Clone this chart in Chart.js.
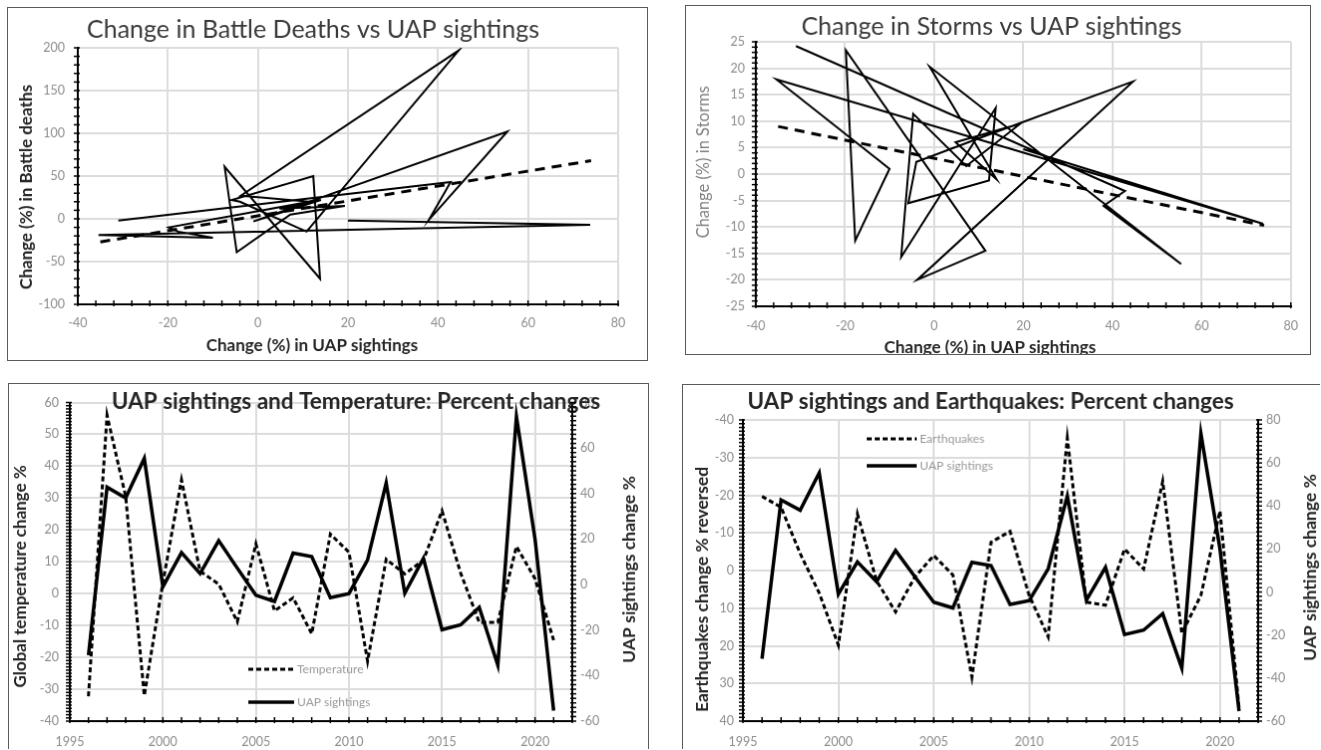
<!DOCTYPE html>
<html>
<head>
<meta charset="utf-8">
<title>UAP sightings charts</title>
<script src="https://cdn.jsdelivr.net/npm/chart.js@4.4.1/dist/chart.umd.min.js"></script>
<style>
  body { margin: 0; background: #fff; width: 1321px; height: 750px; overflow: hidden; position: relative; }
  canvas { position: absolute; border: 1.5px solid #595959; box-sizing: content-box; }
  #c3, #c4 { border-bottom: none; }
  #c4 { border-right: none; }
</style>
</head>
<body>
<canvas id="c1" width="641" height="354" style="left:7px;top:7px"></canvas>
<canvas id="c2" width="626" height="350" style="left:685px;top:5px"></canvas>
<canvas id="c3" width="641" height="366" style="left:8px;top:383px"></canvas>
<canvas id="c4" width="638" height="365" style="left:682px;top:384px"></canvas>
<script>
// years and yearly percent changes
const years = [1996, 1997, 1998, 1999, 2000, 2001, 2002, 2003, 2004, 2005, 2006, 2007, 2008,
               2009, 2010, 2011, 2012, 2013, 2014, 2015, 2016, 2017, 2018, 2019, 2020, 2021];
const uapChange = [-31, 42.8, 38, 55.4, -1, 14, 4.8, 19.3, 7.2, -4.7, -7.4, 13.8, 12.3,
                   -5.8, -4, 10.8, 44.6, -3.8, 11.5, -19.8, -17.7, -10, -35.4, 73.8, 20, -55.4];
const tempChange = [-32.2, 56, 30.5, -32, 3.5, 35.7, 7, 3, -8.8, 15.6, -5.4, -1.3, -12.6,
                    18.7, 13, -21.2, 10.8, 6.2, 10.5, 26, 6.5, -9, -9, 14.8, 4.7, -14.6];
const quakeChange = [-19.7, -16.8, -4.5, 6, 19.8, -15, 2.7, 11, 1.8, -4, 1.2, 28.3, -7.5,
                     -10.4, 6.6, 17.6, -35.2, 8.4, 9.2, -5.7, -0.4, -23.7, 16.7, 6.6, -15.8, 36.5];

// scatter panels use 1996-2020
const battleChange = [-2, 43, -1, 102, -3, 22, 12, 15, 5, -39, 61, -70, 50,
                      22, 20, -15, 197, 27, 20, -10, -15, -22, -19, -7, -2];
const stormChange = [24.2, -3.2, -6, -17, 20.3, -1, 6, 9.5, 1.5, 11.4, -15.7, 12.5, -1.2,
                     -5.5, 2.3, 7, 17.5, -20, -14.5, 23.4, -12.6, 1, 17.9, -9.4, 4.7];

// dashed trend lines
const trendX = [-35, 74];
const battleTrend = [-27, 68];
const stormTrend = [9, -9.7];

// tick mark spacing per chart, kept outside the plugin options
const tickSteps = {
  c1: { x: 4, y: 10 },
  c2: { x: 4, y: 1 },
  c3: { x: 1, y: 1, y1: 2 },
  c4: { x: 1, y: 1, y1: 2 }
};

Chart.defaults.font.family = 'Lato, "Open Sans", sans-serif';
Chart.defaults.color = '#8c8c8c';
Chart.defaults.animation = false;

// free text (titles, axis names) at fixed spots
const textPlugin = {
  id: 'texts',
  afterDraw(chart, args, opts) {
    const ctx = chart.ctx;
    (opts.items || []).forEach(t => {
      ctx.save();
      ctx.translate(t.x, t.y);
      if (t.rot) ctx.rotate(t.rot * Math.PI / 180);
      ctx.font = t.font;
      ctx.fillStyle = t.color || '#262626';
      ctx.textAlign = 'center';
      ctx.textBaseline = 'middle';
      ctx.fillText(t.text, 0, 0);
      ctx.restore();
    });
  }
};

// small black tick marks along the axis lines
const tickPlugin = {
  id: 'axisTicks',
  afterDraw(chart) {
    const ctx = chart.ctx;
    const steps = tickSteps[chart.canvas.id] || {};
    ctx.save();
    ctx.setLineDash([]);
    ctx.strokeStyle = '#000';
    ctx.lineWidth = 1.5;
    ['x', 'y', 'y1'].forEach(id => {
      const s = chart.scales[id];
      const step = steps[id];
      if (!s || !step) return;
      for (let v = s.min; v <= s.max + 1e-9; v += step) {
        const p = s.getPixelForValue(v);
        ctx.beginPath();
        if (s.isHorizontal()) {
          ctx.moveTo(p, s.top - 4);
          ctx.lineTo(p, s.top + 2);
        } else if (s.position === 'right') {
          ctx.moveTo(s.left + 4, p);
          ctx.lineTo(s.left - 2, p);
        } else {
          ctx.moveTo(s.right - 4, p);
          ctx.lineTo(s.right + 2, p);
        }
        ctx.stroke();
      }
    });
    ctx.restore();
  }
};

// legend drawn inside the plot
const boxLegend = {
  id: 'boxLegend',
  afterDraw(chart, args, opts) {
    if (!opts.x) return;
    const ctx = chart.ctx;
    chart.data.datasets.forEach((ds, i) => {
      const y = opts.y + i * opts.gap;
      ctx.save();
      ctx.strokeStyle = ds.borderColor;
      ctx.lineWidth = ds.borderWidth;
      ctx.setLineDash(ds.borderDash || []);
      ctx.beginPath();
      ctx.moveTo(opts.x, y);
      ctx.lineTo(opts.x + opts.len, y);
      ctx.stroke();
      ctx.setLineDash([]);
      ctx.font = '12px Lato';
      ctx.fillStyle = '#999';
      ctx.textBaseline = 'middle';
      ctx.fillText(ds.label, opts.x + opts.len + 3, y);
      ctx.restore();
    });
  }
};

Chart.register(textPlugin, tickPlugin, boxLegend);

const gridStyle = { color: '#dcdcdc', lineWidth: 2, drawTicks: false };
const borderStyle = { color: '#000', width: 2 };
const tickFont = { size: 12.5 };

function fixSize(w, h) {
  return function (s) {
    if (w !== null) s.width = w;
    if (h !== null) s.height = h;
  };
}

function pairs(xs, ys) {
  return ys.map((y, i) => ({ x: xs[i], y: y }));
}

function scatterChart(id, cfg) {
  return new Chart(document.getElementById(id), {
    type: 'scatter',
    data: {
      datasets: [
        { label: 'path', data: pairs(uapChange, cfg.values), showLine: true, borderColor: '#000',
          borderWidth: 2, pointRadius: 0, tension: 0 },
        { label: 'trend', data: pairs(trendX, cfg.trend), showLine: true, borderColor: '#000',
          borderWidth: 3, borderDash: [10, 7], pointRadius: 0 }
      ]
    },
    options: {
      responsive: false,
      layout: { padding: { left: 0, right: cfg.right, top: 0, bottom: 0 } },
      scales: {
        x: { min: -40, max: 80, ticks: { stepSize: 20, padding: cfg.xPad, font: tickFont },
             grid: gridStyle, border: borderStyle, afterFit: fixSize(null, cfg.xHeight) },
        y: { min: cfg.yMin, max: cfg.yMax, ticks: { stepSize: cfg.yStep, padding: cfg.yPad, font: tickFont },
             grid: gridStyle, border: borderStyle, afterFit: fixSize(cfg.yWidth, null) }
      },
      plugins: {
        legend: { display: false },
        tooltip: { enabled: false },
        title: { display: true, text: cfg.title, color: '#3a3a3a',
                 font: { size: 25, weight: 'normal' }, padding: cfg.titlePad },
        texts: { items: cfg.texts }
      }
    }
  });
}

function lineChart(id, cfg) {
  return new Chart(document.getElementById(id), {
    type: 'line',
    data: {
      datasets: [
        { label: cfg.leftName, data: pairs(years, cfg.values), yAxisID: 'y', borderColor: '#000',
          borderWidth: 3, borderDash: [5, 3], pointRadius: 0, tension: 0 },
        { label: 'UAP sightings', data: pairs(years, uapChange), yAxisID: 'y1', borderColor: '#000',
          borderWidth: 3.5, pointRadius: 0, tension: 0 }
      ]
    },
    options: {
      responsive: false,
      layout: { padding: { left: 0, right: 0, top: cfg.top, bottom: 0 } },
      scales: {
        x: { type: 'linear', min: 1995, max: 2022,
             ticks: { stepSize: 5, includeBounds: false, padding: 13, font: tickFont, callback: v => v },
             grid: gridStyle, border: borderStyle, afterFit: fixSize(null, cfg.xHeight) },
        y: { position: 'left', min: cfg.yMin, max: cfg.yMax, reverse: cfg.reverse,
             ticks: { stepSize: 10, padding: cfg.yPad, font: tickFont },
             grid: gridStyle, border: borderStyle, afterFit: fixSize(cfg.yWidth, null) },
        y1: { position: 'right', min: -60, max: 80,
              ticks: { stepSize: 20, padding: cfg.y1Pad, font: tickFont },
              grid: { drawOnChartArea: false, drawTicks: false }, border: borderStyle,
              afterFit: fixSize(cfg.y1Width, null) }
      },
      plugins: {
        legend: { display: false },
        tooltip: { enabled: false },
        boxLegend: cfg.legend,
        texts: { items: cfg.texts }
      }
    }
  });
}

const boldAxis = 'bold 17px Lato';

scatterChart('c1', {
  title: 'Change in Battle Deaths vs UAP sightings',
  values: battleChange, trend: battleTrend,
  yMin: -100, yMax: 200, yStep: 50,
  right: 29, xHeight: 56, yWidth: 70, xPad: 11, yPad: 13,
  titlePad: { top: 7, bottom: 3 },
  texts: [
    { text: 'Change (%) in UAP sightings', x: 305, y: 340, font: boldAxis },
    { text: 'Change (%) in Battle deaths', x: 19, y: 180, rot: -90, font: boldAxis }
  ]
});

scatterChart('c2', {
  title: 'Change in Storms vs UAP sightings',
  values: stormChange, trend: stormTrend,
  yMin: -25, yMax: 25, yStep: 5,
  right: 13, xHeight: 48, yWidth: 70, xPad: 12, yPad: 11,
  titlePad: { top: 6, bottom: 0 },
  texts: [
    { text: 'Change (%) in UAP sightings', x: 305, y: 344, font: boldAxis },
    { text: 'Change (%) in Storms', x: 18, y: 157, rot: -90, font: '16.5px Lato', color: '#808080' }
  ]
});

lineChart('c3', {
  leftName: 'Temperature', values: tempChange,
  yMin: -40, yMax: 60, reverse: false,
  top: 9, xHeight: 28, yWidth: 61, y1Width: 76, yPad: 11, y1Pad: 8,
  legend: { x: 240, y: 286, gap: 33, len: 46 },
  texts: [
    { text: 'UAP sightings and Temperature: Percent changes', x: 348, y: 18, font: 'bold 22.5px Lato' },
    { text: 'Global temperature change %', x: 12, y: 193, rot: -90, font: boldAxis },
    { text: 'UAP sightings change %', x: 622, y: 186, rot: -90, font: 'bold 17.5px Lato' }
  ]
});

lineChart('c4', {
  leftName: 'Earthquakes', values: quakeChange,
  yMin: -40, yMax: 40, reverse: true,
  top: 35, xHeight: 28, yWidth: 60, y1Width: 62, yPad: 9, y1Pad: 8,
  legend: { x: 184, y: 54, gap: 27, len: 50 },
  texts: [
    { text: 'UAP sightings and Earthquakes: Percent changes', x: 308, y: 17, font: 'bold 22.5px Lato' },
    { text: 'Earthquakes change % reversed', x: 19, y: 205, rot: -90, font: 'bold 17.5px Lato' },
    { text: 'UAP sightings change %', x: 628, y: 183, rot: -90, font: 'bold 17.5px Lato' }
  ]
});
</script>
</body>
</html>
